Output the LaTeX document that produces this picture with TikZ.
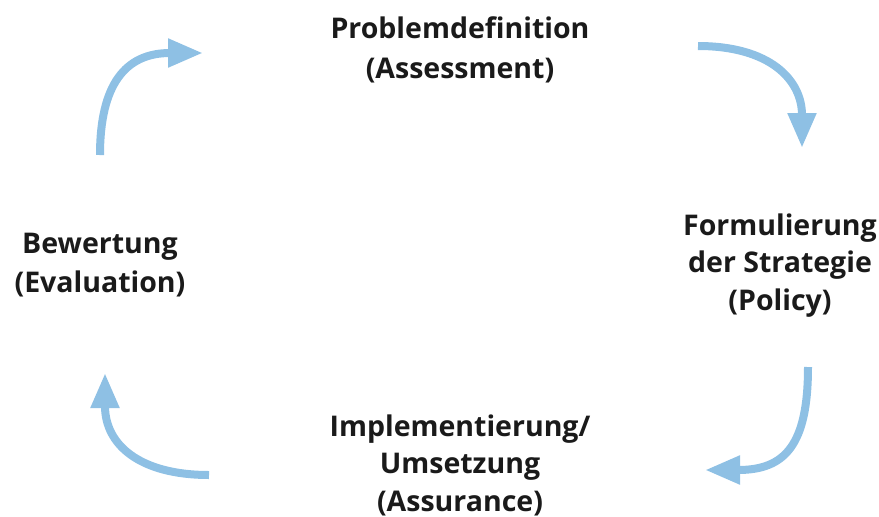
\documentclass[tikz,border=0pt]{standalone}
\usepackage{fontspec}
\setmainfont{Open Sans}
\usetikzlibrary{arrows.meta}
\definecolor{arrowblue}{RGB}{142,192,228}
\definecolor{textdark}{RGB}{26,26,26}
\begin{document}
\begin{tikzpicture}[x=1pt,y=-1pt,
  label/.style={align=center,inner sep=0pt,text=textdark,
    font=\fontsize{28.5}{37.5}\selectfont\bfseries},
  cyclearrow/.style={draw=arrowblue,line width=8pt,
    -{Triangle[length=35pt,width=27pt]}}]
\useasboundingbox (0,0) rectangle (879,517);
\node[label,font=\fontsize{28.5}{39.5}\selectfont\bfseries] (assess) at (460,50) {Problemdefinition\\(Assessment)};
\node[label] (policy) at (780,265.5) {Formulierung\\der Strategie\\(Policy)};
\node[label] (assure) at (460,465) {Implementierung/\\Umsetzung\\(Assurance)};
\node[label,font=\fontsize{28.5}{39}\selectfont\bfseries] (evalu) at (100,265) {Bewertung\\(Evaluation)};
\coordinate (a1s) at (100,155); \coordinate (a1e) at (203,53);
\coordinate (a2s) at (698,46);  \coordinate (a2e) at (802,148);
\coordinate (a3s) at (808,367); \coordinate (a3e) at (705,470);
\coordinate (a4s) at (209,475); \coordinate (a4e) at (105,373);
\draw[cyclearrow] (a1s) .. controls (100,85) and (125,53) .. (a1e);
\draw[cyclearrow] (a2s) .. controls (770,46) and (802,80) .. (a2e);
\draw[cyclearrow] (a3s) .. controls (808,445) and (785,470) .. (a3e);
\draw[cyclearrow] (a4s) .. controls (140,475) and (105,445) .. (a4e);
\end{tikzpicture}
\end{document}
